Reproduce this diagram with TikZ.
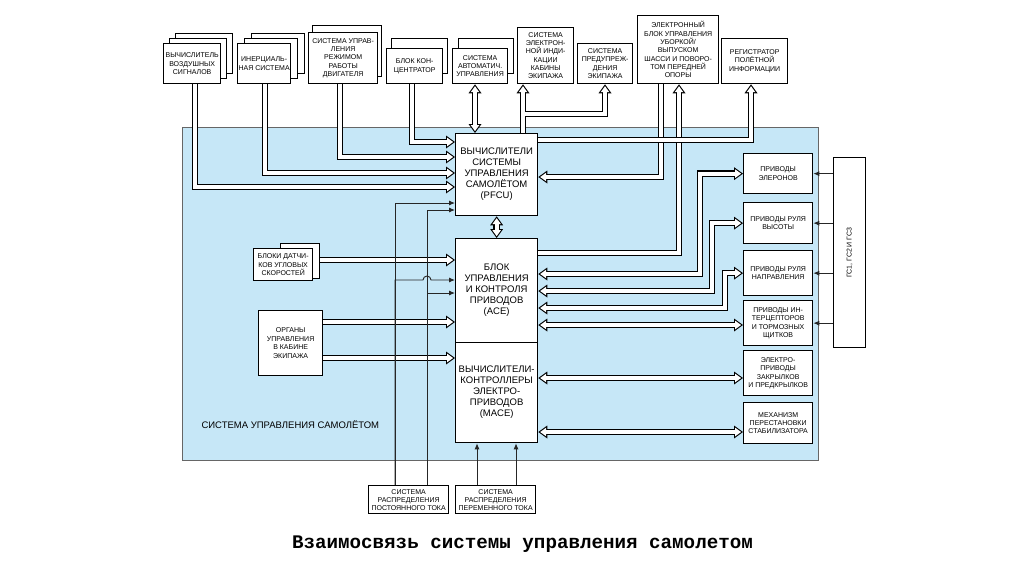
\documentclass[tikz,border=0pt]{standalone}
\usepackage{fontspec}
\setmainfont{Liberation Sans}
\newfontfamily\capfont{Liberation Mono}
\usetikzlibrary{arrows.meta}
\pgfdeclarelayer{bgl}
\pgfdeclarelayer{conn}
\pgfsetlayers{bgl,conn,main}
\definecolor{bluebg}{RGB}{198,231,247}
\tikzset{
  box/.style={draw=black, line width=1.3pt, fill=white, anchor=north west, inner sep=0pt,
    align=center, text=black, font=\fontsize{7}{8.3}\selectfont},
  sbox/.style={draw=black, line width=1.3pt, fill=white, anchor=north west, inner sep=0pt},
  big/.style={font=\fontsize{9.5}{11}\selectfont},
  TB/.tip={Triangle[length=9pt,width=13pt,line width=0pt]},
  TW/.tip={Triangle[length=6pt,width=8.7pt,line width=0pt]},
  Rb/.style={line width=6.6pt, draw=black, -{TB}},
  Rw/.style={line width=4.2pt, draw=white, -{TW}, shorten >=1.9pt},
  Bb/.style={line width=6.6pt, draw=black, {TB}-{TB}},
  Bw/.style={line width=4.2pt, draw=white, {TW}-{TW}, shorten >=1.9pt, shorten <=1.9pt},
  thinar/.style={line width=0.9pt, draw=black!85, -{Latex[length=6pt,width=5pt]}},
}
\begin{document}
\begin{tikzpicture}[x=1pt,y=-1pt]
\useasboundingbox (0,0) rectangle (1024,574);
\begin{pgfonlayer}{bgl}
  \fill[white] (0,0) rectangle (1024,574);
  \draw[fill=bluebg, draw=black!60, line width=0.9pt] (182,127) rectangle (818,460);
\end{pgfonlayer}

% ---------- top boxes ----------
\node[sbox, minimum width=57pt, minimum height=40pt] at (175,33) {};
\node[sbox, minimum width=57pt, minimum height=40pt] at (169,38) {};
\node[box, minimum width=57pt, minimum height=40pt] (vs) at (163,43) {ВЫЧИСЛИТЕЛЬ\\ВОЗДУШНЫХ\\СИГНАЛОВ};

\node[sbox, minimum width=53pt, minimum height=40pt] at (251,33) {};
\node[sbox, minimum width=53pt, minimum height=40pt] at (244,38) {};
\node[box, minimum width=53pt, minimum height=40pt] (ins) at (237,43) {ИНЕРЦИАЛЬ-\\НАЯ СИСТЕМА};

\node[sbox, minimum width=69pt, minimum height=51pt] at (312,25) {};
\node[box, minimum width=69pt, minimum height=51pt] (eng) at (308,32) {СИСТЕМА УПРАВ-\\ЛЕНИЯ\\РЕЖИМОМ\\РАБОТЫ\\ДВИГАТЕЛЯ};

\node[sbox, minimum width=56pt, minimum height=35pt] at (391,38) {};
\node[box, minimum width=56pt, minimum height=35pt] (conc) at (386,48) {БЛОК КОН-\\ЦЕНТРАТОР};

\node[sbox, minimum width=55pt, minimum height=35pt] at (458,38) {};
\node[box, minimum width=55pt, minimum height=35pt] (aut) at (452,48) {СИСТЕМА\\АВТОМАТИЧ.\\УПРАВЛЕНИЯ};

\node[box, minimum width=56pt, minimum height=56pt] (ind) at (517,27) {СИСТЕМА\\ЭЛЕКТРОН-\\НОЙ ИНДИ-\\КАЦИИ\\КАБИНЫ\\ЭКИПАЖА};
\node[box, minimum width=55pt, minimum height=40pt] (warn) at (577,43) {СИСТЕМА\\ПРЕДУПРЕЖ-\\ДЕНИЯ\\ЭКИПАЖА};
\node[box, minimum width=81pt, minimum height=68pt] (ch) at (637,15) {ЭЛЕКТРОННЫЙ\\БЛОК УПРАВЛЕНИЯ\\УБОРКОЙ/\\ВЫПУСКОМ\\ШАССИ И ПОВОРО-\\ТОМ ПЕРЕДНЕЙ\\ОПОРЫ};
\node[box, minimum width=66pt, minimum height=45pt] (rec) at (721,38) {РЕГИСТРАТОР\\ПОЛЁТНОЙ\\ИНФОРМАЦИИ};

% ---------- central blocks ----------
\node[box, big, minimum width=82pt, minimum height=82pt] (pfcu) at (455,133) {ВЫЧИСЛИТЕЛИ\\СИСТЕМЫ\\УПРАВЛЕНИЯ\\САМОЛЁТОМ\\(PFCU)};
\node[box, big, minimum width=82pt, minimum height=104pt] (ace) at (455,238) {БЛОК\\УПРАВЛЕНИЯ\\И КОНТРОЛЯ\\ПРИВОДОВ\\(ACE)};
\node[box, big, minimum width=82pt, minimum height=100pt] (mace) at (455,342) {ВЫЧИСЛИТЕЛИ-\\КОНТРОЛЛЕРЫ\\ЭЛЕКТРО-\\ПРИВОДОВ\\(MACE)};

% ---------- left boxes ----------
\node[sbox, minimum width=39pt, minimum height=35pt] at (280,243) {};
\node[box, minimum width=59pt, minimum height=32pt, font=\fontsize{7}{8.5}\selectfont] (dt) at (253,248) {БЛОКИ ДАТЧИ-\\КОВ УГЛОВЫХ\\СКОРОСТЕЙ};
\node[box, minimum width=64pt, minimum height=65pt, font=\fontsize{7}{8.5}\selectfont] (org) at (258,310) {ОРГАНЫ\\УПРАВЛЕНИЯ\\В КАБИНЕ\\ЭКИПАЖА};

% ---------- right boxes ----------
\node[box, minimum width=69pt, minimum height=40pt] (el) at (743,153) {ПРИВОДЫ\\ЭЛЕРОНОВ};
\node[box, minimum width=69pt, minimum height=41pt] (vy) at (743,202) {ПРИВОДЫ РУЛЯ\\ВЫСОТЫ};
\node[box, minimum width=69pt, minimum height=45pt] (np) at (743,250) {ПРИВОДЫ РУЛЯ\\НАПРАВЛЕНИЯ};
\node[box, minimum width=69pt, minimum height=45pt] (it) at (743,300) {ПРИВОДЫ ИН-\\ТЕРЦЕПТОРОВ\\И ТОРМОЗНЫХ\\ЩИТКОВ};
\node[box, minimum width=69pt, minimum height=45pt] (zk) at (743,350) {ЭЛЕКТРО-\\ПРИВОДЫ\\ЗАКРЫЛКОВ\\И ПРЕДКРЫЛКОВ};
\node[box, minimum width=69pt, minimum height=41pt] (st) at (743,402) {МЕХАНИЗМ\\ПЕРЕСТАНОВКИ\\СТАБИЛИЗАТОРА};

\node[box, minimum width=32pt, minimum height=190pt] (gs) at (833,157) {};
\node[rotate=90, text=black, font=\fontsize{7}{8}\selectfont] (gst) at (gs.center) {ГС1, ГС2 И ГС3};

% ---------- bottom boxes ----------
\node[box, minimum width=80pt, minimum height=28pt, font=\fontsize{7}{8}\selectfont] (dc) at (368,485) {СИСТЕМА\\РАСПРЕДЕЛЕНИЯ\\ПОСТОЯННОГО ТОКА};
\node[box, minimum width=80pt, minimum height=28pt, font=\fontsize{7}{8}\selectfont] (ac) at (455,485) {СИСТЕМА\\РАСПРЕДЕЛЕНИЯ\\ПЕРЕМЕННОГО ТОКА};

% ---------- labels ----------
\node[anchor=west, text=black, font=\fontsize{9.5}{11}\selectfont] (lbl) at (198,425) {СИСТЕМА УПРАВЛЕНИЯ САМОЛЁТОМ};
\node[anchor=base, font=\capfont\bfseries\fontsize{19.2}{21}\selectfont] (cap) at (522.5,548) {Взаимосвязь системы управления самолетом};

% ---------- connectors ----------
\begin{pgfonlayer}{conn}
\foreach \L in {b,w}{
  \draw[R\L] (vs.south -| 195,0) |- (pfcu.west |- 0,187);
  \draw[R\L] (ins.south -| 265,0) |- (pfcu.west |- 0,173);
  \draw[R\L] (eng.south -| 340,0) |- (pfcu.west |- 0,157);
  \draw[R\L] (conc.south -| 412,0) |- (pfcu.west |- 0,142);
  \draw[B\L] (aut.south -| 475,0) -- (pfcu.north -| 475,0);
  \draw[R\L] (pfcu.north -| 523,0) |- (605,114) -- (warn.south -| 605,0);
  \draw[R\L] (pfcu.north -| 523,0) -- (ind.south -| 523,0);
  \draw[R\L] (ch.south -| 661,0) |- (pfcu.east |- 0,177);
  \draw[R\L] (ace.east |- 0,253) -| (ch.south -| 679,0);
  \draw[B\L] (pfcu.south) -- (ace.north);
  \draw[B\L] (ace.east |- 0,274) -| (700,0 |- el.west) -- (el.west);
  \draw[B\L] (ace.east |- 0,291) -| (712,0 |- vy.west) -- (vy.west);
  \draw[B\L] (ace.east |- 0,308) -| (725,0 |- np.west) -- (np.west);
  \draw[B\L] (ace.east |- 0,325) -- (it.west |- 0,325);
  \draw[B\L] (mace.east |- 0,378) -- (zk.west |- 0,378);
  \draw[B\L] (mace.east |- 0,432) -- (st.west |- 0,432);
  \draw[R\L] (dt.east |- 0,260) -- (ace.west |- 0,260);
  \draw[R\L] (org.east |- 0,322) -- (ace.west |- 0,322);
  \draw[R\L] (org.east |- 0,358) -- (mace.west |- 0,358);
}
\foreach \L in {b,w}{
  \draw[R\L] (pfcu.east |- 0,140) -| (rec.south -| 751,0);
}
% thin lines
\draw[thinar] (dc.north -| 395,0) |- (pfcu.west |- 0,203);
\draw[thinar] (dc.north -| 427,0) |- (pfcu.west |- 0,210);
\draw[thinar] (dc.north -| 395,0) |- (423,280) arc[start angle=180, end angle=360, radius=4] -- (ace.west |- 0,280);
\draw[thinar] (dc.north -| 427,0) |- (ace.west |- 0,293);
\draw[thinar] (ac.north -| 477,0) -- (mace.south -| 477,0);
\draw[thinar] (ac.north -| 516,0) -- (mace.south -| 516,0);
\draw[thinar] (gs.west |- el.east) -- (el.east);
\draw[thinar] (gs.west |- vy.east) -- (vy.east);
\draw[thinar] (gs.west |- np.east) -- (np.east);
\draw[thinar] (gs.west |- it.east) -- (it.east);
\end{pgfonlayer}
\end{tikzpicture}
\end{document}
